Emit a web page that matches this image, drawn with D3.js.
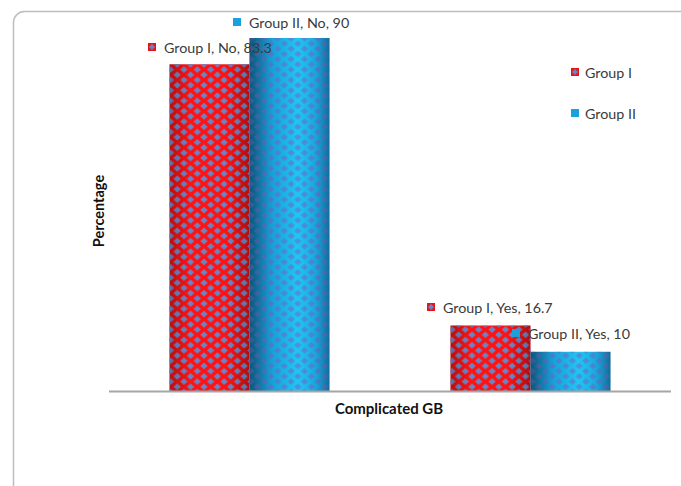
<!DOCTYPE html>
<html>
<head>
<meta charset="utf-8">
<script src="https://cdn.jsdelivr.net/npm/d3@7/dist/d3.min.js"></script>
<style>
  html, body { margin: 0; padding: 0; background: #fff; }
  svg { display: block; }
</style>
</head>
<body>
<script>
// Complicated GB by group (percent)
const categories = ["No", "Yes"];
const seriesNames = ["Group I", "Group II"];
const groupI = [83.3, 16.7];
const groupII = [90, 10];
const seriesValues = [groupI, groupII];

const W = 681, H = 486;
const svg = d3.select("body").append("svg").attr("width", W).attr("height", H);
const defs = svg.append("defs");

const font = "Lato, 'Open Sans', sans-serif";

// Outer frame (rounded, running off the right and bottom edges)
svg.append("rect")
  .attr("x", 13.5).attr("y", 11.5).attr("width", 720).attr("height", 520)
  .attr("rx", 11).attr("ry", 11)
  .attr("fill", "#fff").attr("stroke", "#bdbdbd").attr("stroke-width", 1.5);

// Plot geometry
const plot = { left: 109, right: 671, bottom: 391, top90: 38 };

const x0 = d3.scaleBand().domain(categories).range([plot.left, plot.right]).padding(0);
const x1 = d3.scaleBand().domain(seriesNames).range([0, 160]).padding(0);
const y = d3.scaleLinear().domain([0, 90]).range([plot.bottom, plot.top90]);

// Cylinder shading gradients
function cylGrad(id, stops) {
  const g = defs.append("linearGradient").attr("id", id)
    .attr("x1", "0%").attr("x2", "100%").attr("y1", "0%").attr("y2", "0%");
  stops.forEach(s => g.append("stop").attr("offset", s[0]).attr("stop-color", s[1]));
}
cylGrad("redCyl", [["0%", "#d81010"], ["25%", "#ff1212"], ["70%", "#ff1212"], ["100%", "#d00e0e"]]);
cylGrad("blueCyl", [["0%", "#0b6690"], ["25%", "#129fd6"], ["60%", "#1ec6f6"], ["85%", "#17a8e0"], ["100%", "#0e7aac"]]);
cylGrad("redShade", [["0%", "rgba(0,0,0,0.14)"], ["25%", "rgba(0,0,0,0)"], ["75%", "rgba(0,0,0,0)"], ["100%", "rgba(0,0,0,0.14)"]]);
cylGrad("blueShade", [["0%", "rgba(0,0,0,0.15)"], ["30%", "rgba(0,0,0,0)"], ["75%", "rgba(0,0,0,0)"], ["100%", "rgba(0,0,0,0.1)"]]);

// Diamond patterns: staggered rounded diamonds
function diamondPattern(id, color, opacity) {
  const tw = 13.4, th = 10.4;
  const p = defs.append("pattern").attr("id", id)
    .attr("patternUnits", "userSpaceOnUse").attr("width", tw).attr("height", th)
    .attr("x", 3).attr("y", 2);
  const dw = 3.7, dh = 3.3;
  const centers = [[0, 0], [tw, 0], [0, th], [tw, th], [tw / 2, th / 2]];
  centers.forEach(([cx, cy]) => {
    p.append("path")
      .attr("d", `M${cx - dw},${cy} Q${cx - dw * 0.45},${cy - dh * 0.45} ${cx},${cy - dh} Q${cx + dw * 0.45},${cy - dh * 0.45} ${cx + dw},${cy} Q${cx + dw * 0.45},${cy + dh * 0.45} ${cx},${cy + dh} Q${cx - dw * 0.45},${cy + dh * 0.45} ${cx - dw},${cy} Z`)
      .attr("fill", color).attr("fill-opacity", opacity);
  });
}
diamondPattern("redDiamonds", "#6a84c4", 1);
diamondPattern("blueDiamonds", "#7d5cbc", 0.5);

const styles = [
  { base: "url(#redCyl)", pat: "url(#redDiamonds)", shade: "url(#redShade)", marker: "#e8141c" },
  { base: "url(#blueCyl)", pat: "url(#blueDiamonds)", shade: "url(#blueShade)", marker: "#1aa0dc" }
];

// Bars
const bars = [];
seriesNames.forEach((s, si) => {
  categories.forEach((c, ci) => {
    bars.push({ series: s, si, cat: c, ci, value: seriesValues[si][ci] });
  });
});
// group I first, then group II so the second series sits on top
const barG = svg.append("g");
bars.forEach(d => {
  const bx = x0(d.cat) + (x0.bandwidth() - 160) / 2 + x1(d.series);
  const by = y(d.value);
  const bw = x1.bandwidth();
  const bh = plot.bottom - by;
  const st = styles[d.si];
  const g = barG.append("g");
  g.append("rect").attr("x", bx).attr("y", by).attr("width", bw).attr("height", bh).attr("fill", st.base);
  g.append("rect").attr("x", bx).attr("y", by).attr("width", bw).attr("height", bh).attr("fill", st.pat);
  g.append("rect").attr("x", bx).attr("y", by).attr("width", bw).attr("height", bh).attr("fill", st.shade);
});

// Category axis baseline
svg.append("line")
  .attr("x1", plot.left).attr("x2", plot.right)
  .attr("y1", plot.bottom + 0.5).attr("y2", plot.bottom + 0.5)
  .attr("stroke", "#a6a6a6").attr("stroke-width", 2);

// Small square marker with the series fill
function marker(g, mx, my, si) {
  const st = styles[si];
  g.append("rect").attr("x", mx).attr("y", my).attr("width", 8).attr("height", 8).attr("fill", st.marker);
  if (si === 0) {
    g.append("path").attr("d", `M${mx + 4},${my + 1} L${mx + 7},${my + 4} L${mx + 4},${my + 7} L${mx + 1},${my + 4} Z`)
      .attr("fill", "#6b84c6");
  }
}

// Data labels: "Series, Category, Value"
const labelPos = {
  "Group I|No":   [148, 43],
  "Group II|No":  [233, 18],
  "Group I|Yes":  [427, 303],
  "Group II|Yes": [512, 329]
};
const labG = svg.append("g");
bars.forEach(d => {
  const [mx, my] = labelPos[d.series + "|" + d.cat];
  marker(labG, mx, my, d.si);
  labG.append("text")
    .attr("x", mx + 16).attr("y", my + 9.5)
    .attr("font-family", font).attr("font-size", 14.3)
    .attr("fill", "#3a3a3a")
    .text(`${d.series}, ${d.cat}, ${d.value}`);
});

// Legend
const legG = svg.append("g");
seriesNames.forEach((s, si) => {
  const ly = 68 + si * 41;
  marker(legG, 571, ly, si);
  legG.append("text")
    .attr("x", 585).attr("y", ly + 9.5)
    .attr("font-family", font).attr("font-size", 14.3)
    .attr("fill", "#3a3a3a")
    .text(s);
});

// Axis titles
svg.append("text")
  .attr("transform", "translate(104,211) rotate(-90)")
  .attr("text-anchor", "middle")
  .attr("font-family", font).attr("font-size", 14.5).attr("font-weight", "bold")
  .attr("fill", "#111")
  .text("Percentage");

svg.append("text")
  .attr("x", 389).attr("y", 414)
  .attr("text-anchor", "middle")
  .attr("font-family", font).attr("font-size", 15).attr("font-weight", "bold")
  .attr("fill", "#111")
  .text("Complicated GB");
</script>
</body>
</html>
